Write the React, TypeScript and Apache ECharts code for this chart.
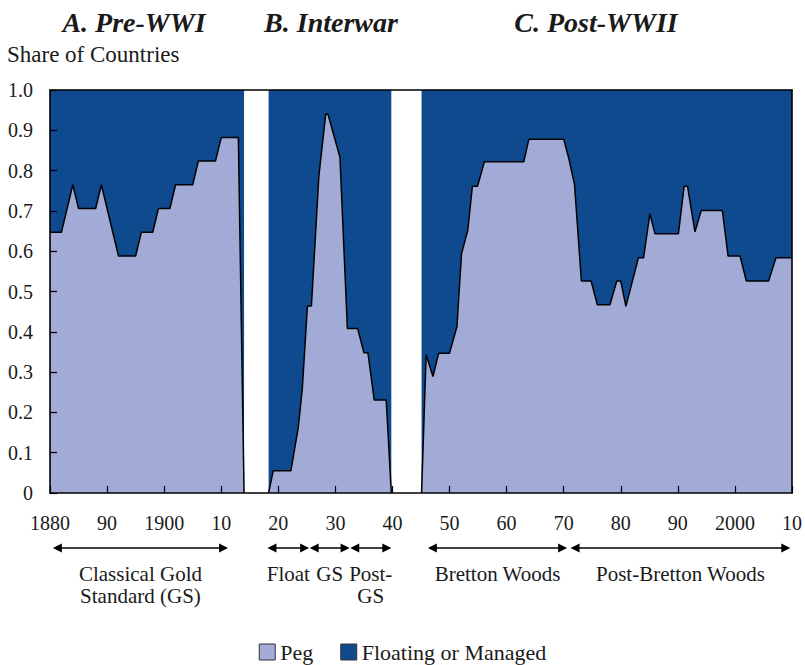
import React, { useEffect, useRef } from "react";
import * as echarts from "echarts";

// ---- Data (share of countries with a pegged exchange rate) ----
const preWWIYears = [1880, 1881, 1882, 1883, 1884, 1885, 1886, 1887, 1888, 1889, 1890, 1891, 1892, 1893, 1894, 1895, 1896, 1897, 1898, 1899, 1900, 1901, 1902, 1903, 1904, 1905, 1906, 1907, 1908, 1909, 1910, 1911, 1912, 1913, 1914];
const preWWIPeg = [0.647, 0.647, 0.647, 0.706, 0.765, 0.706, 0.706, 0.706, 0.706, 0.765, 0.706, 0.647, 0.588, 0.588, 0.588, 0.588, 0.647, 0.647, 0.647, 0.706, 0.706, 0.706, 0.765, 0.765, 0.765, 0.765, 0.824, 0.824, 0.824, 0.824, 0.882, 0.882, 0.882, 0.882, 0];

const interwarYears = [1918.3, 1919.1, 1922.2, 1923.5, 1924.2, 1925.1, 1925.8, 1927.1, 1928.3, 1928.7, 1930.8, 1932.1, 1933.9, 1935.0, 1935.7, 1936.8, 1938.9, 1939.8];
const interwarPeg = [0, 0.055, 0.055, 0.163, 0.258, 0.464, 0.464, 0.785, 0.94, 0.94, 0.833, 0.408, 0.408, 0.348, 0.348, 0.231, 0.231, 0];

const postWWIIYears = [1945.1, 1945.9, 1947.1, 1948.1, 1950.0, 1951.3, 1952.1, 1953.2, 1954.0, 1954.9, 1956.1, 1963.0, 1963.9, 1970.0, 1970.9, 1971.9, 1973.1, 1974.8, 1975.9, 1978.1, 1979.3, 1980.0, 1980.9, 1983.1, 1984.0, 1985.1, 1986.0, 1990.1, 1991.1, 1991.7, 1993.0, 1994.1, 1997.8, 1998.8, 2000.9, 2002.0, 2005.9, 2007.2, 2010.0];
const postWWIIPeg = [0, 0.343, 0.289, 0.347, 0.347, 0.413, 0.594, 0.652, 0.761, 0.761, 0.822, 0.822, 0.878, 0.878, 0.83, 0.765, 0.526, 0.526, 0.467, 0.467, 0.526, 0.526, 0.463, 0.584, 0.584, 0.693, 0.643, 0.643, 0.761, 0.761, 0.648, 0.701, 0.701, 0.588, 0.588, 0.526, 0.526, 0.584, 0.584];

const xTickYears = [1880, 1890, 1900, 1910, 1920, 1930, 1940, 1950, 1960, 1970, 1980, 1990, 2000, 2010];
const xTickLabels = ["1880", "90", "1900", "10", "20", "30", "40", "50", "60", "70", "80", "90", "2000", "10"];

const seriesNames = ["Peg", "Floating or Managed"];
const panelTitles = ["A. Pre-WWI", "B. Interwar", "C. Post-WWII"];
const yAxisTitle = "Share of Countries";

const periodLabels = [["Classical Gold", "Standard (GS)"], ["Float"], ["GS"], ["Post-", "GS"], ["Bretton Woods"], ["Post-Bretton Woods"]];
const periodStarts = [1880.5, 1918.1, 1925.5, 1932.6, 1946.2, 1971.2];
const periodEnds = [1911.2, 1925.4, 1932.5, 1939.8, 1970.6, 2009.7];

// ---- Styles ----
const FONT = "'Liberation Serif', 'Times New Roman', serif";
const PEG_COLOR = "#a2abd6";
const FLOAT_COLOR = "#104a8e";
const TEXT_COLOR = "#1a1a1a";

const eras = [
  { years: preWWIYears, peg: preWWIPeg },
  { years: interwarYears, peg: interwarPeg },
  { years: postWWIIYears, peg: postWWIIPeg },
];

export default function App() {
  const ref = useRef<HTMLDivElement>(null);
  useEffect(() => {
    const chart = echarts.init(ref.current!, null, { renderer: "svg" });
    const axisLineStyle = { color: "#000", width: 1.6 };

    // data items are [share, year]; encode maps year -> x, share -> y,
    // so that stacking is applied on the share dimension
    const pegSeries = eras.map((e, i) => ({
      name: seriesNames[0],
      type: "line",
      stack: "era" + i,
      encode: { x: 1, y: 0 },
      data: e.years.map((y, j) => [e.peg[j], y]),
      symbol: "none",
      showSymbol: false,
      z: 3,
      color: PEG_COLOR,
      itemStyle: { color: PEG_COLOR },
      lineStyle: { color: "#000", width: 1.5 },
      areaStyle: { color: PEG_COLOR, opacity: 1 },
    }));
    const floatSeries = eras.map((e, i) => ({
      name: seriesNames[1],
      type: "line",
      stack: "era" + i,
      encode: { x: 1, y: 0 },
      data: e.years.map((y, j) => [+(1 - e.peg[j]).toFixed(3), y]),
      symbol: "none",
      showSymbol: false,
      z: 2,
      color: FLOAT_COLOR,
      itemStyle: { color: FLOAT_COLOR },
      lineStyle: { color: FLOAT_COLOR, width: 0.5 },
      areaStyle: { color: FLOAT_COLOR, opacity: 1 },
    }));

    const option: any = {
      animation: false,
      backgroundColor: "#fff",
      grid: { left: 50, right: 10, top: 90, bottom: 172, containLabel: false },
      xAxis: [
        {
          type: "value",
          min: 1880,
          max: 2010,
          interval: 10,
          z: 10,
          axisLine: { show: true, onZero: false, lineStyle: axisLineStyle },
          axisTick: { show: true, inside: true, length: 7, lineStyle: { color: "#000", width: 1.2 } },
          axisLabel: {
            margin: 20,
            fontSize: 20,
            fontFamily: FONT,
            color: TEXT_COLOR,
            showMinLabel: true,
            showMaxLabel: true,
            formatter: (v: number) => {
              const k = xTickYears.indexOf(Math.round(v));
              return k >= 0 ? xTickLabels[k] : "";
            },
          },
          splitLine: { show: false },
        },
        {
          type: "value",
          position: "top",
          min: 1880,
          max: 2010,
          z: 10,
          axisLine: { show: true, onZero: false, lineStyle: axisLineStyle },
          axisTick: { show: false },
          axisLabel: { show: false },
          splitLine: { show: false },
        },
      ],
      yAxis: [
        {
          type: "value",
          min: 0,
          max: 1,
          interval: 0.1,
          z: 10,
          axisLine: { show: true, onZero: false, lineStyle: axisLineStyle },
          axisTick: { show: true, inside: true, length: 7, lineStyle: { color: "#000", width: 1.2 } },
          axisLabel: {
            margin: 17,
            fontSize: 20,
            fontFamily: FONT,
            color: TEXT_COLOR,
            formatter: (v: number) => (Math.abs(v) < 1e-9 ? "0" : v.toFixed(1)),
          },
          splitLine: { show: false },
        },
        {
          type: "value",
          position: "right",
          min: 0,
          max: 1,
          z: 10,
          axisLine: { show: true, onZero: false, lineStyle: axisLineStyle },
          axisTick: { show: false },
          axisLabel: { show: false },
          splitLine: { show: false },
        },
      ],
      legend: {
        top: 636,
        left: "center",
        icon: "rect",
        itemWidth: 16,
        itemHeight: 16,
        itemGap: 27,
        textStyle: { fontSize: 22, fontFamily: FONT, color: TEXT_COLOR },
        data: [
          { name: seriesNames[0], itemStyle: { color: PEG_COLOR, borderColor: "#333", borderWidth: 1 } },
          { name: seriesNames[1], itemStyle: { color: FLOAT_COLOR, borderColor: "#333", borderWidth: 1 } },
        ],
      },
      series: [...pegSeries, ...floatSeries],
    };
    chart.setOption(option);

    const px = (yr: number) => chart.convertToPixel({ xAxisIndex: 0 }, yr) as number;
    const graphics: any[] = [];
    const titleX = [134, 331, 596];
    panelTitles.forEach((t, i) => {
      graphics.push({
        type: "text",
        x: titleX[i],
        y: 22,
        style: {
          text: t,
          fontSize: 28,
          fontStyle: "italic",
          fontWeight: "bold",
          fontFamily: FONT,
          fill: TEXT_COLOR,
          textAlign: "center",
          textVerticalAlign: "middle",
        },
      });
    });
    graphics.push({
      type: "text",
      x: 7,
      y: 54,
      style: {
        text: yAxisTitle,
        fontSize: 23,
        fontFamily: FONT,
        fill: TEXT_COLOR,
        textAlign: "left",
        textVerticalAlign: "middle",
      },
    });
    const arrowY = 548;
    periodLabels.forEach((lines, i) => {
      const x1 = px(periodStarts[i]);
      const x2 = px(periodEnds[i]);
      graphics.push({
        type: "line",
        shape: { x1: x1 + 4, y1: arrowY, x2: x2 - 4, y2: arrowY },
        style: { stroke: "#000", lineWidth: 1.5 },
      });
      graphics.push({
        type: "polygon",
        shape: { points: [[x1, arrowY], [x1 + 9, arrowY - 4.5], [x1 + 9, arrowY + 4.5]] },
        style: { fill: "#000" },
      });
      graphics.push({
        type: "polygon",
        shape: { points: [[x2, arrowY], [x2 - 9, arrowY - 4.5], [x2 - 9, arrowY + 4.5]] },
        style: { fill: "#000" },
      });
      lines.forEach((ln, k) => {
        graphics.push({
          type: "text",
          x: (x1 + x2) / 2,
          y: 574 + k * 22,
          style: {
            text: ln,
            fontSize: 21,
            fontFamily: FONT,
            fill: TEXT_COLOR,
            textAlign: "center",
            textVerticalAlign: "middle",
          },
        });
      });
    });
    chart.setOption({ graphic: graphics });

    return () => chart.dispose();
  }, []);
  return <div ref={ref} style={{ position: "fixed", left: 0, top: 0, width: 805, height: 665 }} />;
}
